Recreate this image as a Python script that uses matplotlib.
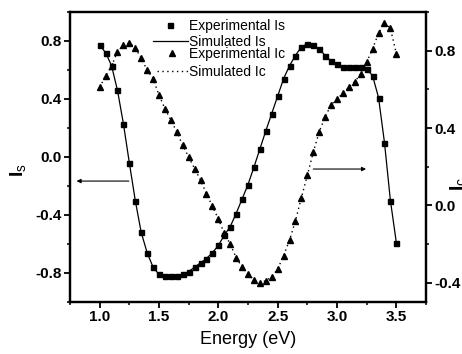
import numpy as np
import matplotlib
matplotlib.use('Agg')
from matplotlib import pyplot as plt
from matplotlib.ticker import MultipleLocator

plt.rcParams['font.family'] = ['Liberation Sans', 'DejaVu Sans']
plt.rcParams['mathtext.fontset'] = 'custom'
plt.rcParams['mathtext.rm'] = 'Liberation Sans'
plt.rcParams['mathtext.bf'] = 'Liberation Sans:bold'
plt.rcParams['axes.unicode_minus'] = False

# Photon energy (eV), 1.0 .. 3.5 in 0.05 steps
energy = [1.00, 1.05, 1.10, 1.15, 1.20, 1.25, 1.30, 1.35, 1.40, 1.45,
          1.50, 1.55, 1.60, 1.65, 1.70, 1.75, 1.80, 1.85, 1.90, 1.95,
          2.00, 2.05, 2.10, 2.15, 2.20, 2.25, 2.30, 2.35, 2.40, 2.45,
          2.50, 2.55, 2.60, 2.65, 2.70, 2.75, 2.80, 2.85, 2.90, 2.95,
          3.00, 3.05, 3.10, 3.15, 3.20, 3.25, 3.30, 3.35, 3.40, 3.45,
          3.50]

# Is (left axis)
i_s = [0.77, 0.72, 0.63, 0.46, 0.23, -0.04, -0.30, -0.52, -0.66, -0.76,
       -0.81, -0.82, -0.82, -0.82, -0.81, -0.79, -0.76, -0.73, -0.70, -0.66,
       -0.61, -0.54, -0.48, -0.39, -0.29, -0.19, -0.07, 0.055, 0.18, 0.30,
       0.42, 0.54, 0.63, 0.70, 0.76, 0.78, 0.77, 0.745, 0.70, 0.66,
       0.64, 0.62, 0.62, 0.62, 0.62, 0.61, 0.56, 0.41, 0.10, -0.30,
       -0.59]

# Ic (right axis)
i_c = [0.61, 0.67, 0.72, 0.795, 0.83, 0.84, 0.815, 0.76, 0.70, 0.655,
       0.57, 0.50, 0.44, 0.38, 0.31, 0.25, 0.19, 0.13, 0.06, -0.005,
       -0.07, -0.145, -0.20, -0.27, -0.32, -0.355, -0.385, -0.40, -0.39, -0.37,
       -0.33, -0.26, -0.18, -0.08, 0.04, 0.155, 0.275, 0.38, 0.457, 0.52,
       0.55, 0.58, 0.61, 0.64, 0.68, 0.74, 0.81, 0.89, 0.945, 0.915,
       0.785]

fig = plt.figure(figsize=(4.62, 3.54), dpi=100)
ax = fig.add_axes([70/462, 1-302/354, 356/462, 290/354])
ax2 = ax.twinx()

# Is data and simulation
p1, = ax.plot(energy, i_s, 's', color='k', ms=3.6, label='Experimental Is')
p2, = ax.plot(energy, i_s, '-', color='k', lw=0.9, label='Simulated Is')

# Ic data and simulation
p3, = ax2.plot(energy, i_c, '^', color='k', ms=4.2, label='Experimental Ic')
p4, = ax2.plot(energy, i_c, linestyle=(0, (1, 2.5)), color='k', lw=1.0,
               label='Simulated Ic')

ax.set_xlim(0.75, 3.75)
ax.set_ylim(-1.0, 1.0)
ax2.set_ylim(-0.5, 1.0)

ax.xaxis.set_major_locator(MultipleLocator(0.5))
ax.xaxis.set_minor_locator(MultipleLocator(0.25))
ax.yaxis.set_minor_locator(MultipleLocator(0.2))
ax2.yaxis.set_minor_locator(MultipleLocator(0.2))
ax.set_yticks([-0.8, -0.4, 0.0, 0.4, 0.8])
ax2.set_yticks([-0.4, 0.0, 0.4, 0.8])

for a in (ax, ax2):
    for s in a.spines.values():
        s.set_linewidth(1.6)
    a.tick_params(which='major', direction='out', length=4, width=1.3,
                  labelsize=11, pad=2)
    a.tick_params(which='minor', direction='out', length=2.5, width=1.1)
    for lab in a.get_xticklabels() + a.get_yticklabels():
        lab.set_fontweight('bold')
ax.tick_params(axis='x', top=False, which='both')
ax.tick_params(axis='y', right=False, which='both')

ax.set_xlabel('Energy (eV)', fontsize=13, labelpad=5)

fig.text(19/462, 1-170/354, r'$\mathbf{I}_{\mathrm{s}}$', rotation=90,
         fontsize=14, ha='center', va='center')
fig.text(459/462, 1-184/354, r'$\mathbf{I}_{\mathrm{c}}$', rotation=90,
         fontsize=14, ha='center', va='center')

# arrows pointing to the matching axis
ax.annotate('', xy=(0.805, -0.166), xytext=(1.246, -0.166),
            arrowprops=dict(arrowstyle='-|>', color='k', lw=0.8,
                            mutation_scale=6, shrinkA=0, shrinkB=0))
ax.annotate('', xy=(3.245, -0.083), xytext=(2.80, -0.083),
            arrowprops=dict(arrowstyle='-|>', color='k', lw=0.8,
                            mutation_scale=6, shrinkA=0, shrinkB=0))

leg1 = ax2.legend(handles=[p1, p2], loc='upper left',
                  bbox_to_anchor=(153/462, 1-19/354),
                  bbox_transform=fig.transFigure, frameon=False,
                  fontsize=10, numpoints=1, borderpad=0, borderaxespad=0,
                  handlelength=2.5, handletextpad=0.1, labelspacing=0.15)
ax2.add_artist(leg1)
ax2.legend(handles=[p3, p4], loc='upper left',
           bbox_to_anchor=(157/462, 1-47/354),
           bbox_transform=fig.transFigure, frameon=False,
           fontsize=10, numpoints=1, borderpad=0, borderaxespad=0,
           handlelength=2.2, handletextpad=0.1, labelspacing=0.3)

fig.savefig('out.png', dpi=100)
